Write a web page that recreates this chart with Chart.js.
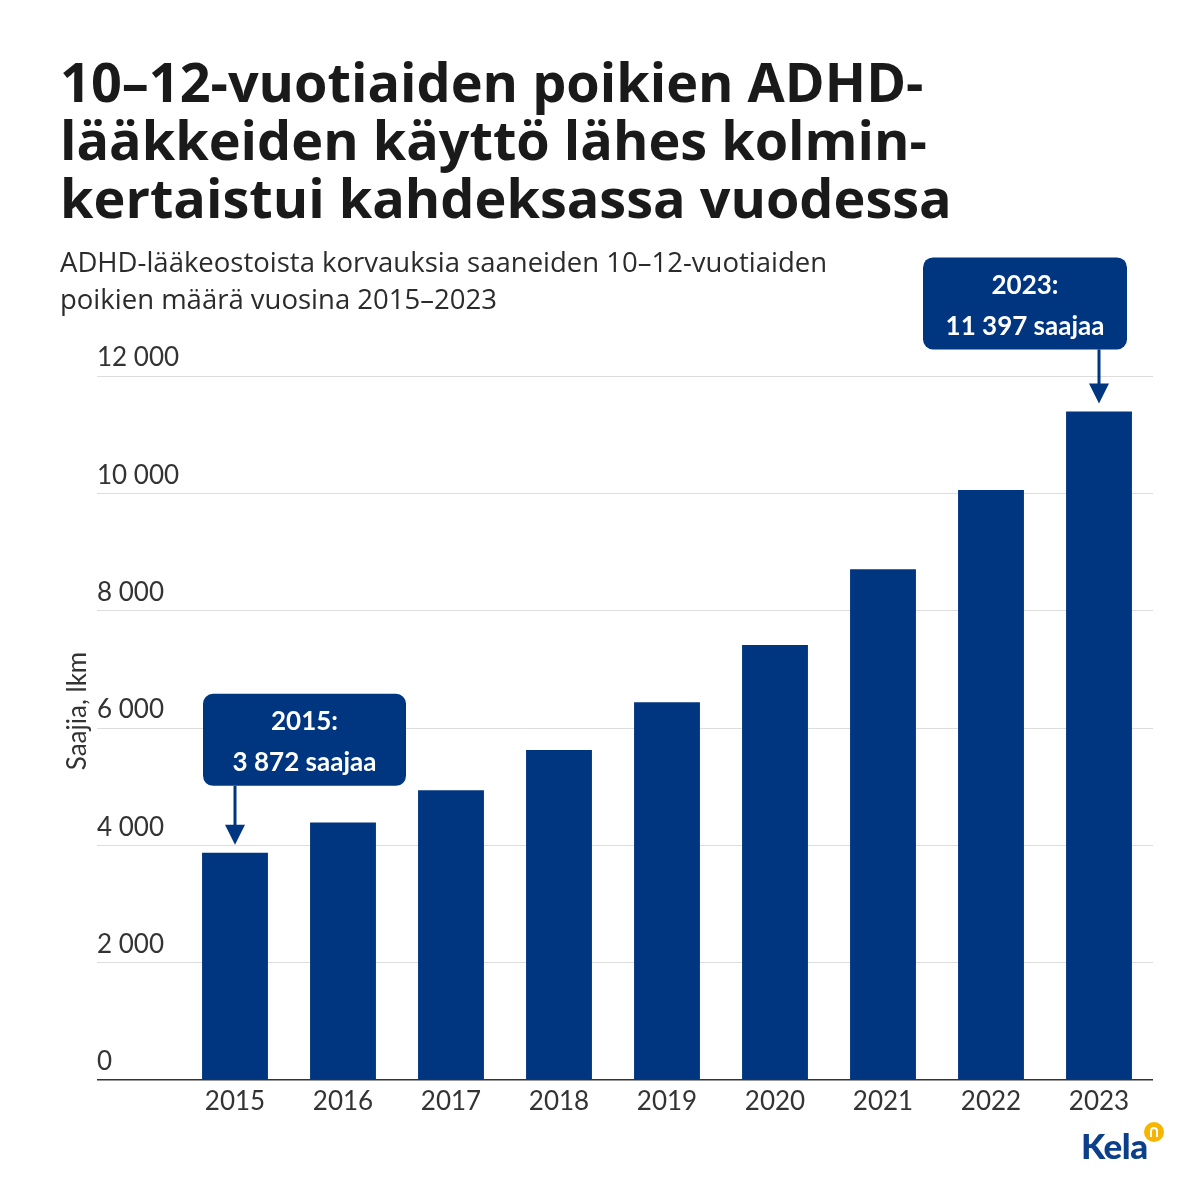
<!DOCTYPE html>
<html>
<head>
<meta charset="utf-8">
<script src="https://cdn.jsdelivr.net/npm/chart.js@4.4.1/dist/chart.umd.min.js"></script>
<style>
  html, body { margin: 0; padding: 0; background: #fff; }
  #wrap { position: relative; width: 1200px; height: 1200px; overflow: hidden; }
  #chart { position: absolute; left: 0; top: 0; }
  h1 { position: absolute; left: 60px; top: 52px; margin: 0; font: 700 54px/58px "Open Sans"; color: #1a1a1a; white-space: nowrap; }
  .sub { position: absolute; left: 60px; top: 243px; margin: 0; font: 400 27.5px/37px "Open Sans"; color: #2b2b2b; white-space: nowrap; }
  .logo { position: absolute; left: 1081px; top: 1122px; font: 900 35px/46px Lato; color: #0b3f8c; letter-spacing: -0.5px; }
  .logo-dot { position: absolute; left: 1144px; top: 1122px; width: 20px; height: 20px; border-radius: 50%; background: #f7b500; }
  .logo-dot::after { content: ""; position: absolute; left: 6px; top: 5px; width: 8px; height: 10px; border: 2px solid #fff; border-bottom: none; border-radius: 4px 4px 0 0; box-sizing: border-box; }
</style>
</head>
<body>
<div id="wrap">
  <canvas id="chart" width="1200" height="1200"></canvas>
  <h1>10–12-vuotiaiden poikien ADHD-<br>lääkkeiden käyttö lähes kolmin-<br>kertaistui kahdeksassa vuodessa</h1>
  <p class="sub">ADHD-lääkeostoista korvauksia saaneiden 10–12-vuotiaiden<br>poikien määrä vuosina 2015–2023</p>
  <div class="logo">Kela</div>
  <div class="logo-dot"></div>
</div>
<script>
const years = ['2015', '2016', '2017', '2018', '2019', '2020', '2021', '2022', '2023'];
const recipients = [3872, 4390, 4940, 5625, 6440, 7415, 8705, 10055, 11397];
const yTicks = [0, 2000, 4000, 6000, 8000, 10000, 12000];
const yTitle = 'Saajia, lkm';
const calloutYears = ['2015', '2023'];
const calloutUnit = 'saajaa';

const navy = '#003580';
const textColor = '#333333';

function fmt(n) {
  return String(n).replace(/\B(?=(\d{3})+(?!\d))/g, ' ');
}

// box placement relative to the bar it points at
const calloutStyle = [
  { dx: -32, w: 203, h: 92, gap: 67 },
  { dx: -176, w: 204, h: 92, gap: 62 }
];

const annotations = {
  id: 'annotations',
  afterDatasetsDraw(chart) {
    const ctx = chart.ctx;
    const meta = chart.getDatasetMeta(0);

    // y axis title
    ctx.save();
    ctx.translate(78, 711);
    ctx.rotate(-Math.PI / 2);
    ctx.font = '26px Lato';
    ctx.fillStyle = textColor;
    ctx.textAlign = 'center';
    ctx.textBaseline = 'middle';
    ctx.fillText(yTitle, 0, 0);
    ctx.restore();

    calloutYears.forEach((yr, i) => {
      const idx = years.indexOf(yr);
      const bar = meta.data[idx];
      const st = calloutStyle[i];
      const left = bar.x + st.dx;
      const bottom = bar.y - st.gap;
      const top = bottom - st.h;

      ctx.save();
      ctx.fillStyle = navy;
      ctx.beginPath();
      ctx.roundRect(left, top, st.w, st.h, 10);
      ctx.fill();

      // arrow
      const tip = bar.y - 8;
      ctx.strokeStyle = navy;
      ctx.lineWidth = 3;
      ctx.beginPath();
      ctx.moveTo(bar.x, bottom);
      ctx.lineTo(bar.x, tip - 16);
      ctx.stroke();
      ctx.beginPath();
      ctx.moveTo(bar.x - 10, tip - 20);
      ctx.lineTo(bar.x + 10, tip - 20);
      ctx.lineTo(bar.x, tip);
      ctx.closePath();
      ctx.fill();

      ctx.fillStyle = '#ffffff';
      ctx.font = 'bold 26px Lato';
      ctx.textAlign = 'center';
      ctx.textBaseline = 'middle';
      const cx = left + st.w / 2;
      ctx.fillText(yr + ':', cx, top + 28);
      ctx.fillText(fmt(recipients[idx]) + ' ' + calloutUnit, cx, top + 69);
      ctx.restore();
    });
  }
};

const ctx = document.getElementById('chart').getContext('2d');

new Chart(ctx, {
  type: 'bar',
  data: {
    labels: years,
    datasets: [{
      data: recipients,
      backgroundColor: navy,
      borderWidth: 0,
      barPercentage: 0.61,
      categoryPercentage: 1
    }]
  },
  options: {
    responsive: false,
    animation: false,
    layout: {
      padding: { left: 97, right: 47, top: 376, bottom: 80 }
    },
    plugins: {
      legend: { display: false },
      tooltip: { enabled: false }
    },
    scales: {
      x: {
        grid: { display: false, drawTicks: false },
        border: { display: false },
        ticks: {
          color: textColor,
          font: { family: 'Lato', size: 26 },
          padding: 6
        },
        afterFit(scale) { scale.height = 40; }
      },
      y: {
        min: 0,
        max: 12000,
        afterBuildTicks(scale) {
          scale.ticks = yTicks.map(v => ({ value: v }));
        },
        afterFit(scale) { scale.width = 84; },
        border: { display: false },
        grid: {
          color: c => c.tick && c.tick.value === 0 ? '#333333' : '#dddddd',
          lineWidth: c => c.tick && c.tick.value === 0 ? 1.5 : 1,
          drawTicks: true,
          tickLength: 84
        },
        ticks: {
          crossAlign: 'far',
          labelOffset: -18,
          color: textColor,
          font: { family: 'Lato', size: 26 },
          callback: v => fmt(v)
        }
      }
    }
  },
  plugins: [annotations]
});
</script>
</body>
</html>
